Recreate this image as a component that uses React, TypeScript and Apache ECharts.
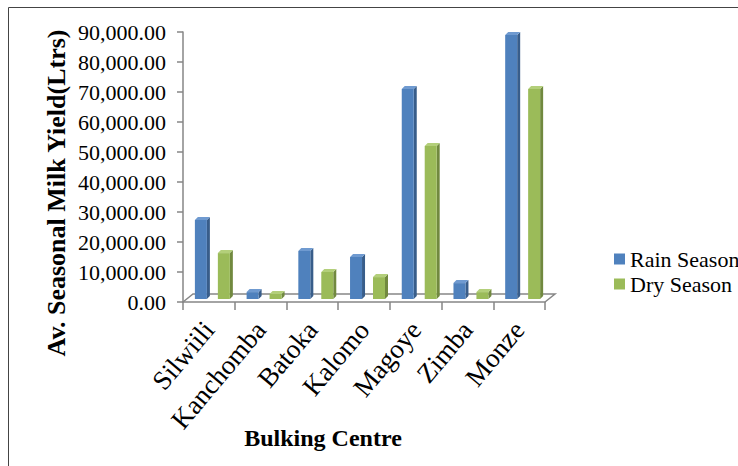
import React, { useEffect, useRef } from "react";
import * as echarts from "echarts";

const categories = ["Silwiili", "Kanchomba", "Batoka", "Kalomo", "Magoye", "Zimba", "Monze"];
const rainSeason = [26300, 2300, 16000, 14000, 70000, 5300, 88000];
const drySeason = [15300, 1700, 9000, 7300, 51000, 2300, 70000];
const seriesNames = ["Rain Season", "Dry Season"];
const yTicks = { min: 0, max: 90000, interval: 10000 };

const FONT = "Liberation Serif";
const GRID = { left: 183, top: 32, right: 193, bottom: 164 };
const W = 738;
const H = 466;

const palettes = [
  { front: "#4F81BD", side: "#385D8A", top: "#6F9AD0" },
  { front: "#9BBB59", side: "#71893F", top: "#B3CF7A" },
];

function fmt(v: number): string {
  const s = Math.round(v).toString().replace(/\B(?=(\d{3})+(?!\d))/g, ",");
  return s + ".00";
}

function makeRender(idx: number) {
  const pal = palettes[idx];
  return (params: any, api: any) => {
    const cat = api.value(0);
    const val = api.value(1);
    const top = api.coord([cat, val]);
    const base = api.coord([cat, 0]);
    const band = api.size([1, 0])[0];
    const w = band * 0.232;
    const shiftY = 3;
    const dx = 3;
    const dy = 3;
    const x = top[0] + (idx === 0 ? -band * 0.27 : band * 0.174);
    const yTop = top[1] - shiftY;
    const yBot = base[1] - shiftY;
    return {
      type: "group",
      children: [
        {
          type: "polygon",
          shape: {
            points: [
              [x + w, yTop],
              [x + w + dx, yTop - dy],
              [x + w + dx, yBot - dy],
              [x + w, yBot],
            ],
          },
          style: { fill: pal.side },
        },
        {
          type: "rect",
          shape: { x: x, y: yTop, width: w, height: yBot - yTop },
          style: { fill: pal.front },
        },
        {
          type: "polygon",
          shape: {
            points: [
              [x, yTop],
              [x + w, yTop],
              [x + w + dx, yTop - dy],
              [x + dx, yTop - dy],
            ],
          },
          style: { fill: pal.top },
        },
      ],
    };
  };
}

export default function App() {
  const ref = useRef<HTMLDivElement>(null);
  useEffect(() => {
    if (!ref.current) return;
    const chart = echarts.init(ref.current, undefined, { renderer: "svg" });
    const x0 = GRID.left;
    const x1 = W - GRID.right;
    const yb = H - GRID.bottom;
    const depthX = 10;
    const depthY = 8;
    chart.setOption({
      animation: false,
      backgroundColor: "#fff",
      grid: { ...GRID, containLabel: false },
      legend: {
        orient: "vertical",
        left: 609,
        top: 243,
        itemWidth: 11,
        itemHeight: 11,
        itemGap: 3,
        icon: "rect",
        data: seriesNames,
        textStyle: { fontFamily: FONT, fontSize: 22, color: "#000" },
      },
      xAxis: {
        type: "category",
        data: categories,
        boundaryGap: true,
        axisLine: { show: true, lineStyle: { color: "#868686", width: 1.5 } },
        axisTick: { show: true, length: 8, alignWithLabel: false, lineStyle: { color: "#868686", width: 1.5 } },
        axisLabel: {
          rotate: 50,
          interval: 0,
          margin: 23,
          fontFamily: FONT,
          fontSize: 27,
          color: "#000",
        },
        splitLine: { show: false },
      },
      yAxis: {
        type: "value",
        min: yTicks.min,
        max: yTicks.max,
        interval: yTicks.interval,
        axisLine: { show: true, lineStyle: { color: "#868686", width: 1.5 } },
        axisTick: { show: true, length: 6, lineStyle: { color: "#868686", width: 1.5 } },
        axisLabel: {
          margin: 17,
          fontFamily: FONT,
          fontSize: 22,
          color: "#000",
          formatter: (v: number) => fmt(v),
        },
        splitLine: { show: false },
      },
      series: [
        {
          name: seriesNames[0],
          type: "custom",
          renderItem: makeRender(0),
          itemStyle: { color: palettes[0].front },
          data: rainSeason.map((v, i) => [i, v]),
          encode: { x: 0, y: 1 },
          clip: false,
        },
        {
          name: seriesNames[1],
          type: "custom",
          renderItem: makeRender(1),
          itemStyle: { color: palettes[1].front },
          data: drySeason.map((v, i) => [i, v]),
          encode: { x: 0, y: 1 },
          clip: false,
        },
      ],
      graphic: [
        {
          type: "polyline",
          z: 1,
          shape: {
            points: [
              [x0, yb],
              [x0 + depthX, yb - depthY],
              [x1 + depthX, yb - depthY],
              [x1, yb],
            ],
          },
          style: { stroke: "#868686", lineWidth: 1.5, fill: null },
        },
        {
          type: "line",
          shape: { x1: 8.5, y1: 7.5, x2: W, y2: 7.5 },
          style: { stroke: "#444", lineWidth: 1 },
        },
        {
          type: "line",
          shape: { x1: 8.5, y1: 7.5, x2: 8.5, y2: H },
          style: { stroke: "#444", lineWidth: 1 },
        },
        {
          type: "text",
          x: 56,
          y: 193,
          rotation: Math.PI / 2,
          style: {
            text: "Av. Seasonal Milk Yield(Ltrs)",
            fontFamily: FONT,
            fontWeight: "bold",
            fontSize: 26,
            fill: "#000",
            align: "center",
            verticalAlign: "middle",
          },
        },
        {
          type: "text",
          x: 323,
          y: 438,
          style: {
            text: "Bulking Centre",
            fontFamily: FONT,
            fontWeight: "bold",
            fontSize: 24,
            fill: "#000",
            align: "center",
            verticalAlign: "middle",
          },
        },
      ],
    });
    return () => chart.dispose();
  }, []);
  return (
    <div
      ref={ref}
      style={{ position: "fixed", left: 0, top: 0, width: W, height: H, background: "#fff" }}
    />
  );
}
